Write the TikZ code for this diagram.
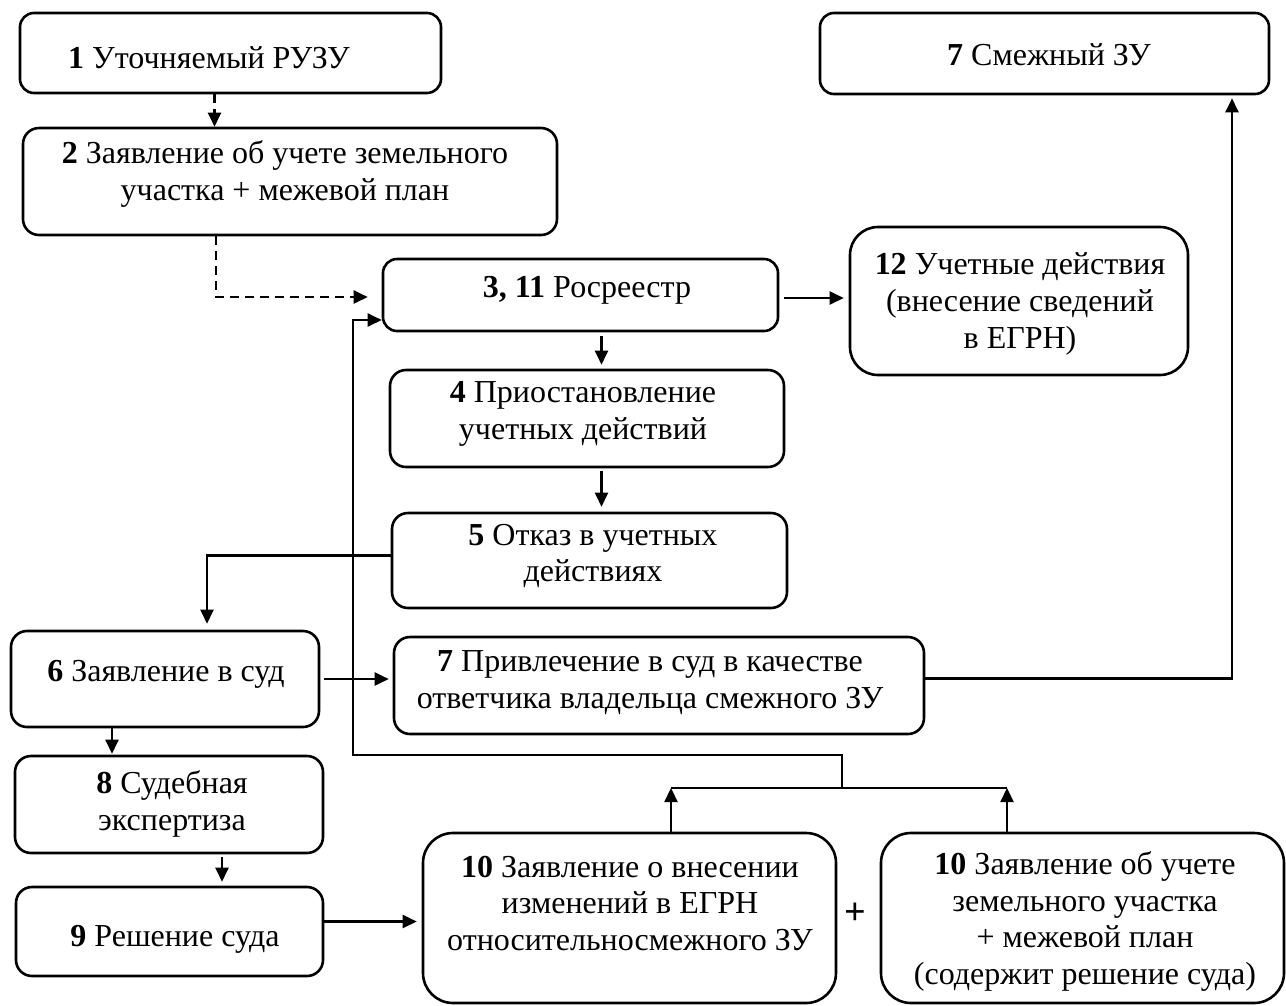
\documentclass[tikz,border=0pt]{standalone}
\usepackage{fontspec}
\setmainfont{Liberation Serif}
\usetikzlibrary{arrows.meta}

\begin{document}
\begin{tikzpicture}[x=1pt,y=-1pt]
	\useasboundingbox (0,0) rectangle (1286,1005);
	
	% --- estilos ---
	\tikzset{
		blok/.style    = {draw, line width=2.6pt, inner sep=0pt},
		txt/.style     = {align=center, inner sep=0pt, font=\fontsize{32pt}{36.8pt}\selectfont},
		link/.style    = {line width=2.3pt},
		arr/.style     = {link, -{Triangle[length=14pt,width=13pt]}},
		dasharr/.style = {arr, dash pattern=on 9pt off 6pt},
	}
	
	% macro para un bloque: #1=nombre, #2..#5 = izq/arriba/der/abajo, #6=radio
	\newcommand{\Blok}[6]{%
		\pgfmathsetmacro{\blokW}{#4-#2}%
		\pgfmathsetmacro{\blokH}{#5-#3}%
		\node[blok, rounded corners=#6, minimum width=\blokW pt, minimum height=\blokH pt]
			(#1) at ({(#2+#4)/2},{(#3+#5)/2}) {};%
	}
	
	% --- bloques ---
	\Blok{b1}{20}{13}{441}{93}{14pt}
	\Blok{b7top}{820}{13}{1269}{94}{14pt}
	\Blok{b2}{23}{128}{557}{235}{16pt}
	\Blok{b3}{383}{259}{778}{331}{14pt}
	\Blok{b12}{850}{227}{1188}{375}{28pt}
	\Blok{b4}{390}{370}{784}{467}{16pt}
	\Blok{b5}{392}{513}{787}{608}{16pt}
	\Blok{b6}{11}{631}{319}{727}{16pt}
	\Blok{b7}{394}{637}{924}{734}{16pt}
	\Blok{b8}{15}{756}{323}{853}{16pt}
	\Blok{b9}{16}{887}{323}{976}{16pt}
	\Blok{b10a}{423}{833}{836}{1003}{30pt}
	\Blok{b10b}{881}{833}{1284}{1003}{30pt}
	
	% --- textos ---
	\node[txt] (t1) at (209,57.5) {\textbf{1} Уточняемый РУЗУ};
	\node[txt] (t7top) at (1049,54.5) {\textbf{7} Смежный ЗУ};
	\node[txt] (t2) at (285,174) {\textbf{2} Заявление об учете земельного\\участка + межевой план};
	\node[txt] (t3) at (587,290.5) {\textbf{3, 11} Росреестр};
	\node[txt] (t12) at (1020,304) {\textbf{12} Учетные действия\\(внесение сведений\\в ЕГРН)};
	\node[txt] (t4) at (583,414) {\textbf{4} Приостановление\\учетных действий};
	\node[txt] (t5) at (593,556) {\textbf{5} Отказ в учетных\\действиях};
	\node[txt] (t6) at (166,674.5) {\textbf{6} Заявление в суд};
	\node[txt] (t7) at (650,683) {\textbf{7} Привлечение в суд в качестве\\ответчика владельца смежного ЗУ};
	\node[txt] (t8) at (172,804) {\textbf{8} Судебная\\экспертиза};
	\node[txt] (t9) at (175,939) {\textbf{9} Решение суда};
	\node[txt] (t10a) at (630,903.5) {\textbf{10} Заявление о внесении\\изменений в ЕГРН\\относительносмежного ЗУ};
	\node[txt] (t10b) at (1085,921.5) {\textbf{10} Заявление об учете\\земельного участка\\+ межевой план\\(содержит решение суда)};
	\node[txt, font=\fontsize{38pt}{40pt}\selectfont\bfseries] (plus) at (855.5,913.5) {+};
	
	% --- conexiones ---
	\draw[dasharr] ([xshift=-16pt]b1.south) -- ([xshift=-16pt]b1.south |- b2.north);
	\draw[dasharr, shorten >=14pt] ([xshift=-74pt]b2.south) |- ([yshift=-2pt]b3.west);
	\draw[arr, shorten <=5pt, shorten >=5pt] ([yshift=-3pt]b3.east) -- ([yshift=-3pt]b3.east -| b12.west);
	\draw[arr, shorten <=4pt, shorten >=4pt] ([xshift=21pt]b3.south) -- ([xshift=21pt]b3.south |- b4.north);
	\draw[arr, shorten <=3pt, shorten >=5pt] ([xshift=21pt]b3.south |- b4.south) -- ([xshift=21pt]b3.south |- b5.north);
	\draw[arr, shorten >=6pt] ([yshift=5pt]b5.west) -| ([xshift=42pt]b6.north);
	\draw[arr, shorten <=4pt, shorten >=4pt] (b6.east) -- (b6.east -| b7.west);
	\draw[arr, shorten >=1pt] ([xshift=-53pt]b6.south) -- ([xshift=-53pt]b6.south |- b8.north);
	\draw[arr, shorten <=3pt, shorten >=4pt] ([xshift=53pt]b8.south) -- ([xshift=53pt]b8.south |- b9.north);
	\draw[arr, shorten >=5pt] ([yshift=10pt]b9.east) -- ([yshift=10pt]b9.east -| b10a.west);
	\draw[arr, shorten >=3pt] ([yshift=7pt]b7.east) -| ([xshift=187.5pt]b7top.south);
	
	% retorno a Rosreestr
	\coordinate (jn) at (842,788);
	\coordinate (fb) at (353,755);
	\draw[arr] ([xshift=41.5pt]b10a.north) -- ([xshift=41.5pt]b10a.north |- jn);
	\draw[arr] ([xshift=-75.5pt]b10b.north) -- ([xshift=-75.5pt]b10b.north |- jn);
	\draw[link] ([xshift=41.5pt]b10a.north |- jn) -- ([xshift=-75.5pt]b10b.north |- jn);
	\draw[arr] (jn) |- (fb) |- ([yshift=-25pt]b3.west);
	
\end{tikzpicture}
\end{document}
